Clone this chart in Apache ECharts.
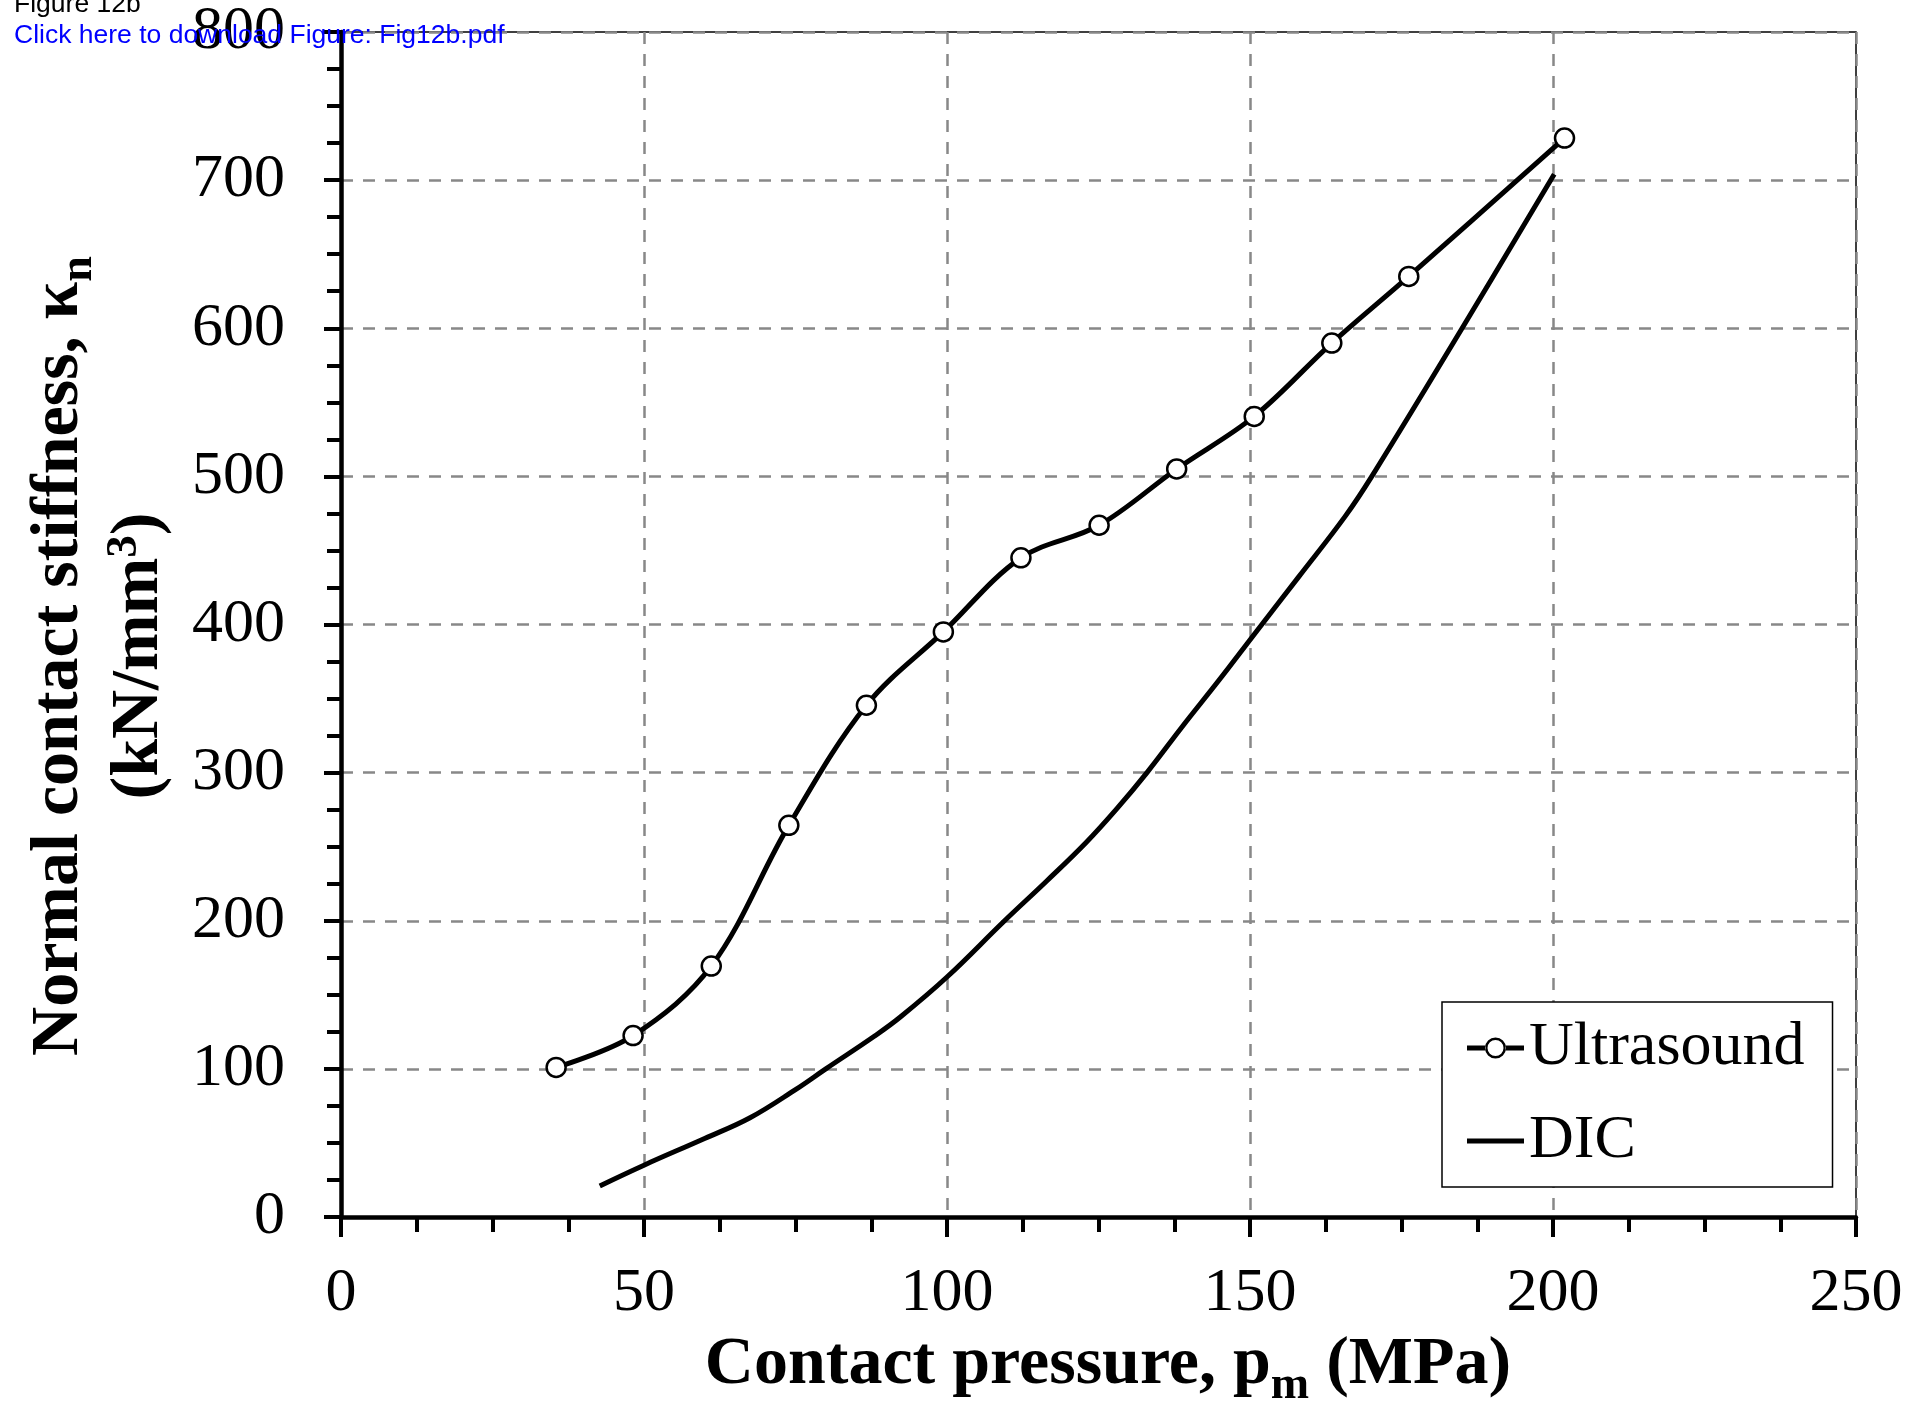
<!DOCTYPE html>
<html><head><meta charset="utf-8">
<script src="https://cdn.jsdelivr.net/npm/echarts@6/dist/echarts.min.js"></script>
<style>html,body{margin:0;padding:0;background:#fff}#c{width:1911px;height:1411px}</style>
</head><body><div id="c"></div>
<script>
// ---- data ----
const ultrasoundX = [35.5, 48.2, 61.1, 73.9, 86.7, 99.4, 112.2, 125.1, 137.9, 150.7, 163.5, 176.2, 201.9];
const ultrasoundY = [101, 122.5, 169.4, 264.4, 345.5, 395, 445, 467, 505, 540.5, 590, 635, 728.4];
const dicX = [42.7, 50, 60, 67.5, 75, 80, 88, 92.3, 100, 109.5, 116.5, 123, 128, 133, 139, 145, 151, 158, 165.7, 170.1, 185, 200.2];
const dicY = [21, 35, 53, 67, 86, 100, 122, 135, 162, 200, 227, 253, 275.5, 300, 332, 363, 395, 432, 473, 500, 600, 704];
const xMin = 0, xMax = 250, xStep = 50;
const yMin = 0, yMax = 800, yStep = 100;
const seriesNames = ['Ultrasound', 'DIC'];

const SERIF = "'Liberation Serif','Times New Roman',serif";
const SANS = "'Liberation Sans',Arial,sans-serif";
const zip = (xs, ys) => xs.map((x, i) => [x, ys[i]]);

// legend icons: line with open circle, and plain thick line
const ICON_LINE_CIRCLE = 'path://M0,8.5H18.5V13.5H0Z M38.5,8.5H57V13.5H38.5Z ' +
  'M18,11A10.5,10.5 0 1,0 39,11A10.5,10.5 0 1,0 18,11Z M20.5,11A8,8 0 1,1 36.5,11A8,8 0 1,1 20.5,11Z';
const ICON_LINE = 'path://M0,0H57V5H0Z';

const chart = echarts.init(document.getElementById('c'), null, {renderer: 'canvas'});

function axisCommon(tickLen, minorLen, margin) {
  return {
    axisLine: {show: true, onZero: false, lineStyle: {color: '#000', width: 4.5}},
    axisTick: {show: true, inside: false, length: tickLen, lineStyle: {color: '#000', width: 4}},
    minorTick: {show: true, splitNumber: 4, length: minorLen, lineStyle: {color: '#000', width: 4}},
    splitLine: {show: true, lineStyle: {color: '#888', width: 2.5, type: [12, 10]}},
    minorSplitLine: {show: false},
    axisLabel: {show: true, margin: margin, fontSize: 62, fontFamily: SERIF, color: '#000',
      showMinLabel: true, showMaxLabel: true, hideOverlap: false}
  };
}

chart.setOption({
  animation: false,
  backgroundColor: '#fff',
  grid: {left: 341, right: 55, top: 32, bottom: 194, containLabel: false, outerBoundsMode: 'none',
    show: true, borderColor: '#000', borderWidth: 1.5, backgroundColor: 'transparent'},
  xAxis: Object.assign({type: 'value', min: xMin, max: xMax, interval: xStep}, axisCommon(20, 15, 46)),
  yAxis: Object.assign({type: 'value', min: yMin, max: yMax, interval: yStep}, axisCommon(17, 14, 56)),
  legend: {
    show: true, orient: 'vertical', left: 1442, top: 1002,
    data: [
      {name: seriesNames[0], icon: ICON_LINE_CIRCLE, itemStyle: {color: '#000', borderWidth: 0}},
      {name: seriesNames[1], icon: ICON_LINE, itemStyle: {color: '#000', borderWidth: 0}}
    ],
    symbolKeepAspect: true,
    backgroundColor: '#fff', borderColor: '#000', borderWidth: 1.5,
    padding: [15, 28, 15, 25], itemGap: 31, itemWidth: 57, itemHeight: 22,
    textStyle: {fontSize: 62, fontFamily: SERIF, color: '#000', lineHeight: 62},
    selectedMode: false
  },
  series: [
    {
      name: seriesNames[0], type: 'line', data: zip(ultrasoundX, ultrasoundY),
      smooth: 0.35, symbol: 'circle', symbolSize: 19, showSymbol: true,
      lineStyle: {color: '#000', width: 5},
      itemStyle: {color: '#fff', borderColor: '#000', borderWidth: 2.5},
      emphasis: {disabled: true}, z: 4
    },
    {
      name: seriesNames[1], type: 'line', data: zip(dicX, dicY),
      smooth: 0.4, symbol: 'none', showSymbol: false,
      lineStyle: {color: '#000', width: 5},
      itemStyle: {color: '#000'},
      emphasis: {disabled: true}, z: 3
    }
  ],
  graphic: [
    {type: 'text', z: 100, x: 14, y: 5, style: {text: 'Figure 12b', font: '26.5px ' + SANS, fill: '#000', align: 'left', verticalAlign: 'middle'}},
    {type: 'text', z: 100, x: 14, y: 36, style: {text: 'Click here to download Figure: Fig12b.pdf', font: '26.5px ' + SANS, fill: '#0000ff', align: 'left', verticalAlign: 'middle'}},
    {type: 'text', z: 50, x: 1108, y: 1365, style: {
      text: '{b|Contact pressure, p}{s|m}{b| (MPa)}', align: 'center', verticalAlign: 'middle', fill: '#000',
      rich: {
        b: {fontSize: 68, fontWeight: 'bold', fontFamily: SERIF, color: '#000'},
        s: {fontSize: 46, fontWeight: 'bold', fontFamily: SERIF, color: '#000', padding: [42, 0, 0, 0]}
      }}},
    {type: 'text', z: 50, x: 59, y: 656, rotation: Math.PI / 2, style: {
      text: '{b|Normal contact stiffness, κ}{s|n}', align: 'center', verticalAlign: 'middle', fill: '#000',
      rich: {
        b: {fontSize: 68, fontWeight: 'bold', fontFamily: SERIF, color: '#000'},
        s: {fontSize: 46, fontWeight: 'bold', fontFamily: SERIF, color: '#000', padding: [40, 0, 0, 0]}
      }}},
    {type: 'text', z: 50, x: 139, y: 656, rotation: Math.PI / 2, style: {
      text: '{b|(kN/mm}{p|3}{b|)}', align: 'center', verticalAlign: 'middle', fill: '#000',
      rich: {
        b: {fontSize: 68, fontWeight: 'bold', fontFamily: SERIF, color: '#000'},
        p: {fontSize: 45, fontWeight: 'bold', fontFamily: SERIF, color: '#000', padding: [0, 0, 30, 0]}
      }}}
  ]
});
</script></body></html>
